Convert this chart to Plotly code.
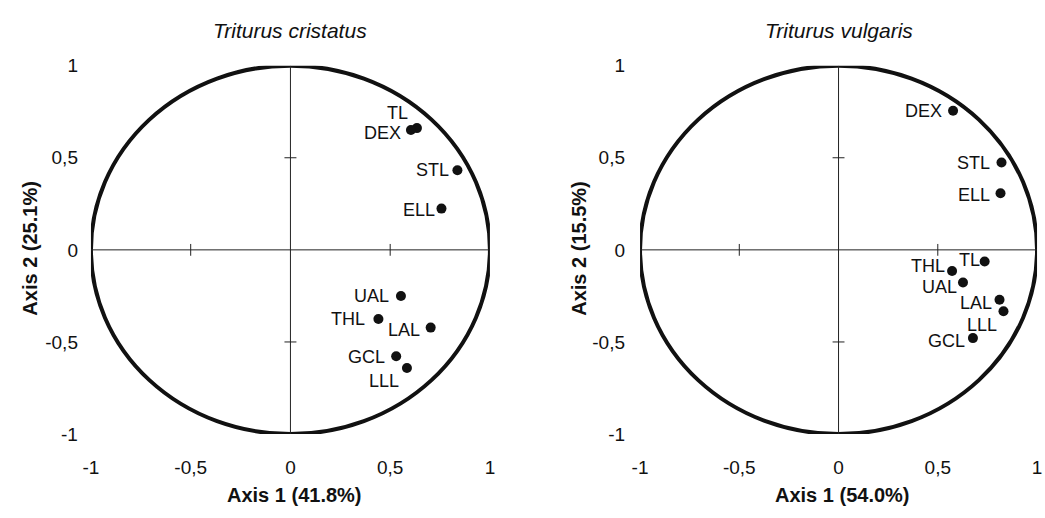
import plotly.graph_objects as go

# ---- data ----
vars_crist = ["TL", "DEX", "STL", "ELL", "UAL", "THL", "LAL", "GCL", "LLL"]
ax1_crist = [0.634, 0.604, 0.837, 0.757, 0.554, 0.441, 0.703, 0.530, 0.584]
ax2_crist = [0.661, 0.651, 0.432, 0.224, -0.250, -0.375, -0.422, -0.578, -0.641]

vars_vulg = ["DEX", "STL", "ELL", "TL", "THL", "UAL", "LAL", "LLL", "GCL"]
ax1_vulg = [0.577, 0.821, 0.816, 0.736, 0.572, 0.627, 0.811, 0.831, 0.677]
ax2_vulg = [0.755, 0.474, 0.307, -0.063, -0.115, -0.177, -0.271, -0.333, -0.479]

titles = ["Triturus cristatus", "Triturus vulgaris"]
x_titles = ["Axis 1 (41.8%)", "Axis 1 (54.0%)"]
y_titles = ["Axis 2 (25.1%)", "Axis 2 (15.5%)"]
tick_vals = [-1, -0.5, 0, 0.5, 1]
tick_text = ["-1", "-0,5", "0", "0,5", "1"]

# label placement (pixel offsets of the label's right edge / vertical centre from the dot)
offs_crist = [(-8, 15), (-9, -3), (-7, 0), (-5, -1), (-11, 0), (-12, 0), (-10, -2), (-10, -1), (-7, -13)]
offs_vulg = [(-10, 0), (-11, 0), (-10, -2), (-4, 1), (-6, 5), (-5, -5), (-7, -3), (-5, -14), (-7, -3)]

# ---- layout geometry ----
W, H = 1045, 518
FONT = "Liberation Sans, Arial, Helvetica, sans-serif"
x_doms = [(84 / W, 488 / W), (640 / W, 1042 / W)]
y_dom = (1 - 442 / H, 1 - 58 / H)

fig = go.Figure()

panels = [
    (vars_crist, ax1_crist, ax2_crist, offs_crist),
    (vars_vulg, ax1_vulg, ax2_vulg, offs_vulg),
]

shapes = []
annotations = []
for i, (names, xs, ys, offs) in enumerate(panels):
    xa = "x" if i == 0 else "x2"
    ya = "y" if i == 0 else "y2"
    fig.add_trace(go.Scatter(
        x=xs, y=ys, mode="markers",
        marker=dict(color="#111", size=10),
        xaxis=xa, yaxis=ya, showlegend=False, cliponaxis=False,
        hovertext=names, hoverinfo="text+x+y",
    ))
    for n, xv, yv, (dx, dy) in zip(names, xs, ys, offs):
        annotations.append(dict(text=n, x=xv, y=yv, xref=xa, yref=ya, showarrow=False,
                                xanchor="right", yanchor="middle", xshift=dx, yshift=dy,
                                borderpad=0,
                                font=dict(family=FONT, size=18, color="#111")))
    # correlation circle
    shapes.append(dict(type="circle", xref=xa, yref=ya, x0=-1, x1=1, y0=-1, y1=1,
                       line=dict(color="#111", width=4), layer="below"))
    # cross axes
    shapes.append(dict(type="line", xref=xa, yref=ya, x0=-1, x1=1, y0=0, y1=0,
                       line=dict(color="#222", width=1), layer="below"))
    shapes.append(dict(type="line", xref=xa, yref=ya, x0=0, x1=0, y0=-1, y1=1,
                       line=dict(color="#222", width=1), layer="below"))
    for t in tick_vals:
        if t in (-1, 0, 1):
            continue
        shapes.append(dict(type="line", xref=xa, yref=ya, x0=t, x1=t, y0=-0.032, y1=0.032,
                           line=dict(color="#222", width=1), layer="below"))
        shapes.append(dict(type="line", xref=xa, yref=ya, x0=-0.03, x1=0.03, y0=t, y1=t,
                           line=dict(color="#222", width=1), layer="below"))
    xc = (x_doms[i][0] + x_doms[i][1]) / 2
    annotations.append(dict(text=titles[i], x=xc, y=1 - 21 / H, xref="paper", yref="paper",
                            showarrow=False, xanchor="center", yanchor="middle",
                            font=dict(family=FONT, size=21, color="#111", style="italic")))
    annotations.append(dict(text="<b>" + x_titles[i] + "</b>", x=xc + 4 / W, y=1 - 505 / H,
                            xref="paper", yref="paper", showarrow=False,
                            xanchor="center", yanchor="middle",
                            font=dict(family=FONT, size=20, color="#111")))
    yt_x = 22 if i == 0 else 578
    annotations.append(dict(text="<b>" + y_titles[i] + "</b>", x=yt_x / W, y=1 - 248 / H,
                            xref="paper", yref="paper", showarrow=False, textangle=-90,
                            xanchor="center", yanchor="middle",
                            font=dict(family=FONT, size=20, color="#111")))

axis_common = dict(range=[-1, 1], showgrid=False, zeroline=False, showline=False,
                   ticks="", tickvals=tick_vals, ticktext=tick_text,
                   tickfont=dict(family=FONT, size=19, color="#111"), fixedrange=True)

fig.update_layout(
    width=W, height=H, margin=dict(l=0, r=0, t=0, b=0),
    paper_bgcolor="white", plot_bgcolor="white",
    xaxis=dict(domain=x_doms[0], anchor="y", ticklabelstandoff=20, **axis_common),
    yaxis=dict(domain=y_dom, anchor="x", ticklabelstandoff=12, **axis_common),
    xaxis2=dict(domain=x_doms[1], anchor="y2", ticklabelstandoff=20, **axis_common),
    yaxis2=dict(domain=y_dom, anchor="x2", ticklabelstandoff=14, **axis_common),
    shapes=shapes, annotations=annotations,
)

fig.write_html("out.html")
